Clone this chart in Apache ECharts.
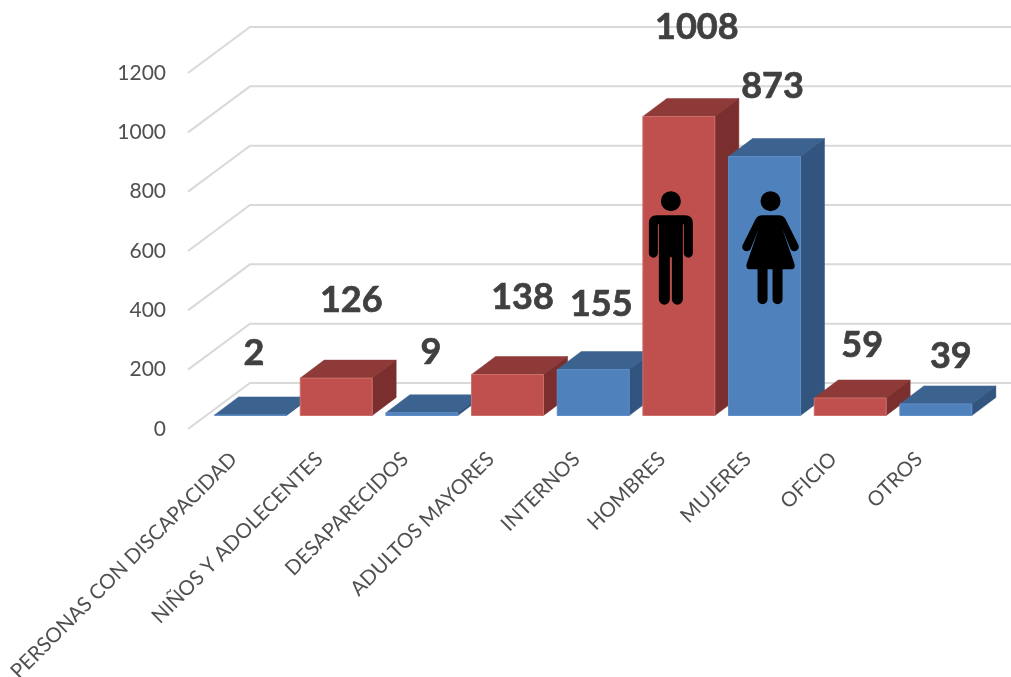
<!DOCTYPE html>
<html>
<head>
<meta charset="utf-8">
<script src="https://cdn.jsdelivr.net/npm/echarts@6/dist/echarts.min.js"></script>
<style>html,body{margin:0;padding:0;background:#fff}#c{width:1011px;height:677px}</style>
</head>
<body>
<div id="c"></div>
<script>
const categories = ['PERSONAS CON DISCAPACIDAD','NIÑOS Y ADOLECENTES','DESAPARECIDOS','ADULTOS MAYORES','INTERNOS','HOMBRES','MUJERES','OFICIO','OTROS'];
const values = [2,126,9,138,155,1008,873,59,39];
const yTicks = [0,200,400,600,800,1000,1200];
const tones = ['blue','red','blue','red','blue','red','blue','red','blue'];

const palette = {
  red:  {front:'#C0504D', top:'#8E3A38', side:'#7A2F2E', edge:'#CC6F6C'},
  blue: {front:'#4F81BD', top:'#3C6390', side:'#32557F', edge:'#5F8DC6'}
};
const FONT = 'Lato';
const barDepth = [24,-18], wallDepth = [62,-46], barShift = [19.7,-13.5], barRatio = 0.84;
const labelNudgeX = [3.5,15,9,15,8,18,8,12,15];
const labelNudgeY = [-62,-78,-60,-77,-65,-89,-70,-53,-48];

const MAN = 'M-10 0A10 10 0 1 1 10 0A10 10 0 1 1 -10 0Z M-22 22Q-22 14 -14 14L14 14Q22 14 22 22L22 52A4.5 4.5 0 0 1 13 52L13 23L12 23L12 98A5.5 5.5 0 0 1 1 98L1 56L-1 56L-1 98A5.5 5.5 0 0 1 -12 98L-12 23L-13 23L-13 52A4.5 4.5 0 0 1 -22 52Z';
const WOMAN = 'M-10 0A10 10 0 1 1 10 0A10 10 0 1 1 -10 0Z M-8 14L8 14Q13 14 15 18L28 44A4.5 4.5 0 0 1 20 48L12 28L24 63Q25 68 21 68L12 68L12 98A5 5 0 0 1 2 98L2 68L-3 68L-3 98A5 5 0 0 1 -13 98L-13 68L-21 68Q-25 68 -24 63L-12 28L-20 48A4.5 4.5 0 0 1 -28 44L-15 18Q-13 14 -8 14Z';
const icons = {HOMBRES:{path:MAN, dx:-8}, MUJERES:{path:WOMAN, dx:6}};
const iconHeadValue = 768;

function poly(points, fill, stroke){
  return {type:'polygon', shape:{points}, style:{fill, stroke:stroke||fill, lineWidth:stroke?1:0.5}};
}
function renderWall(params, api){
  const cs = params.coordSys;
  const y = api.coord([0, api.value(1)])[1];
  return {type:'polyline',
    shape:{points:[[cs.x,y],[cs.x+wallDepth[0],y+wallDepth[1]],[cs.x+cs.width+wallDepth[0],y+wallDepth[1]]]},
    style:{fill:'none', stroke:'#D9D9D9', lineWidth:2}};
}
function barBox(api){
  const base = api.coord([api.value(0),0]);
  const top = api.coord([api.value(0),api.value(1)]);
  const w = api.size([1,0])[0]*barRatio;
  const cx = base[0]+barShift[0];
  return {cx, l:cx-w/2, r:cx+w/2, b:base[1]+barShift[1], t:top[1]+barShift[1]};
}
function renderBar(params, api){
  const b = barBox(api), i = params.dataIndex, c = palette[tones[i]];
  const [dx,dy] = barDepth;
  const children = [
    poly([[b.l,b.t],[b.r,b.t],[b.r+dx,b.t+dy],[b.l+dx,b.t+dy]], c.top),
    poly([[b.r,b.t],[b.r+dx,b.t+dy],[b.r+dx,b.b+dy],[b.r,b.b]], c.side),
    poly([[b.l,b.t],[b.r,b.t],[b.r,b.b],[b.l,b.b]], c.front, c.edge)
  ];
  const icon = icons[categories[i]];
  if (icon) {
    children.push({type:'path', x:b.cx+icon.dx, y:api.coord([0,iconHeadValue])[1],
      shape:{pathData:icon.path}, style:{fill:'#000'}});
  }
  return {type:'group', children};
}
function renderLabel(params, api){
  const b = barBox(api), i = params.dataIndex;
  return {type:'text', x:b.cx+labelNudgeX[i], y:b.t+labelNudgeY[i],
    style:{text:String(api.value(1)), font:'bold 36px '+FONT, fill:'#404040', stroke:'#404040', lineWidth:0.7, align:'center', verticalAlign:'middle'}};
}
const barData = values.map((v,i)=>[i,v]);
const chart = echarts.init(document.getElementById('c'), null, {renderer:'canvas'});
chart.setOption({
  animation:false,
  backgroundColor:'#fff',
  grid:{left:188, width:771, top:73, height:356, outerBoundsMode:'none'},
  xAxis:{type:'category', data:categories, boundaryGap:true,
    axisLine:{show:false}, axisTick:{show:false}, splitLine:{show:false},
    axisLabel:{interval:0, rotate:45, color:'#505050', fontSize:20.5, lineHeight:8, fontFamily:FONT, margin:24, align:'right', verticalAlign:'top'}},
  yAxis:{type:'value', min:0, max:1200, interval:200,
    axisLine:{show:false}, axisTick:{show:false}, splitLine:{show:false},
    axisLabel:{color:'#505050', fontSize:21, fontFamily:FONT, margin:22, formatter:v=>String(v)}},
  series:[
    {type:'custom', renderItem:renderWall, data:yTicks.map(v=>[0,v]), encode:{x:0,y:1}, silent:true, clip:false, z:1},
    {type:'custom', renderItem:renderBar, data:barData, encode:{x:0,y:1}, clip:false, z:2},
    {type:'custom', renderItem:renderLabel, data:barData, encode:{x:0,y:1}, clip:false, z:3}
  ]
});
</script>
</body>
</html>
